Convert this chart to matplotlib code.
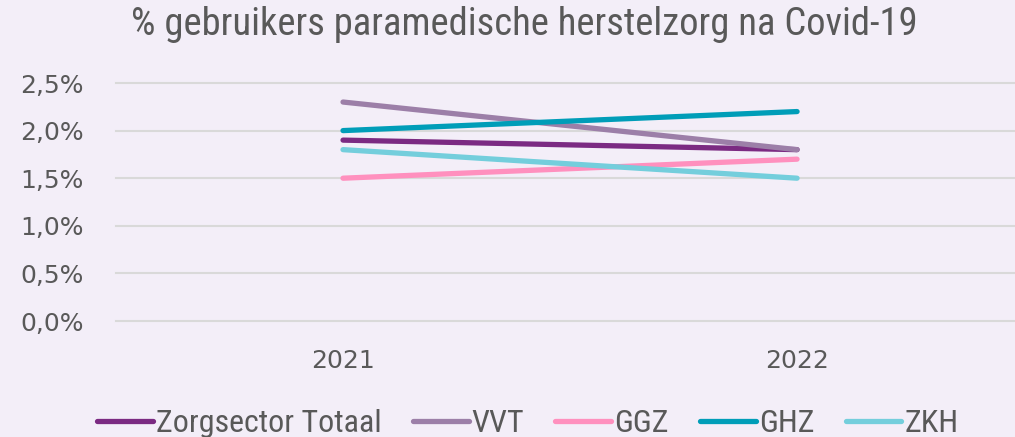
import matplotlib.pyplot as plt
from matplotlib.ticker import FuncFormatter

jaren = ['2021', '2022']
zorgsector_totaal = [1.9, 1.8]
vvt = [2.3, 1.8]
ggz = [1.5, 1.7]
ghz = [2.0, 2.2]
zkh = [1.8, 1.5]

reeksen = [
    ('Zorgsector Totaal', zorgsector_totaal, '#7B2A82'),
    ('VVT', vvt, '#9C7FA8'),
    ('GGZ', ggz, '#FF90BE'),
    ('GHZ', ghz, '#009DB8'),
    ('ZKH', zkh, '#74CEDC'),
]

bg = '#F3EEF8'
tekst = '#595959'
smal = ['Roboto Condensed', 'Liberation Sans Narrow', 'Roboto', 'DejaVu Sans']

fig = plt.figure(figsize=(10.15, 4.37), dpi=100, facecolor=bg)
ax = fig.add_axes([116 / 1015, 116 / 437, 1 - 116 / 1015, 238 / 437])
ax.set_facecolor(bg)

x = range(len(jaren))
for naam, waarden, kleur in reeksen:
    ax.plot(x, waarden, color=kleur, lw=3.8, solid_capstyle='round', label=naam, zorder=3)

ax.set_xlim(-0.5, 1.48)
ax.set_ylim(0, 2.5)
ax.set_yticks([0, 0.5, 1.0, 1.5, 2.0, 2.5])
ax.yaxis.set_major_formatter(FuncFormatter(lambda v, p: f'{v:.1f}%'.replace('.', ',')))
ax.set_xticks(list(x))
ax.set_xticklabels(jaren)
ax.grid(axis='y', color='#D9D9D9', lw=1.5, zorder=0)
for g in ax.get_ygridlines():
    g.set_clip_on(False)
for s in ax.spines.values():
    s.set_visible(False)
ax.tick_params(length=0, labelsize=18, labelcolor=tekst)
ax.tick_params(axis='y', pad=23)
ax.tick_params(axis='x', pad=20)

fig.text(0.517, 0.945, '% gebruikers paramedische herstelzorg na Covid-19',
         ha='center', va='center', fontsize=27.8, color=tekst, family=smal)

fig.legend(loc='lower center', bbox_to_anchor=(0.52, -0.068), ncol=5, frameon=False,
           prop={'family': smal, 'size': 23}, labelcolor=tekst,
           handlelength=1.75, handletextpad=0.1, columnspacing=0.97)

fig.savefig('out.png', dpi=100, facecolor=bg)
